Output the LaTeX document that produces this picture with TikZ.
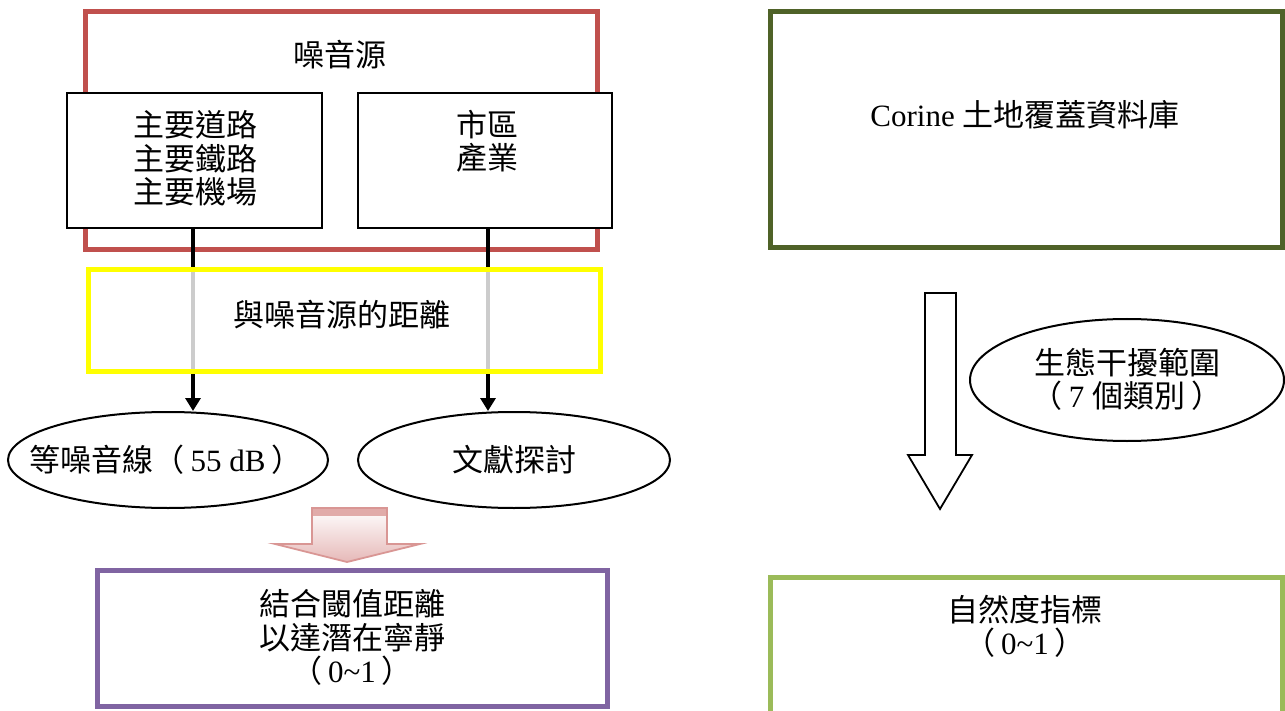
\documentclass[tikz,border=0pt]{standalone}
\usepackage{fontspec}
\setmainfont{Noto Sans CJK TC}
\newfontfamily\lat{Liberation Serif}
\usetikzlibrary{arrows.meta,shapes.geometric}
\definecolor{cred}{HTML}{C0504D}
\definecolor{cyel}{HTML}{FFFF00}
\definecolor{cpur}{HTML}{8064A2}
\definecolor{cdkg}{HTML}{4F6228}
\definecolor{cltg}{HTML}{9BBB59}
\definecolor{cpink}{HTML}{E6B9B8}
\definecolor{cpinkb}{HTML}{D99694}
\newcommand{\gp}{\hspace{3pt}}
\tikzset{
  frame/.style={draw, line width=2.5pt, fill=white, minimum width=#1},
  inbox/.style={draw=black, line width=1pt, fill=white, minimum width=127.5pt, minimum height=67.5pt},
  lab/.style={align=center, font=\fontsize{15.5}{16.75}\selectfont, inner sep=0pt},
  oval/.style={ellipse, draw=black, line width=1pt, fill=white, inner sep=0pt},
  conn/.style={line width=2pt, -{Triangle[length=6.5pt,width=7.5pt]}},
}
\begin{document}
\begin{tikzpicture}[x=0.5pt,y=-0.5pt]
\clip (0,0) rectangle (1285,711);
\fill[white] (0,0) rectangle (1285,711);
% left column
\node[frame=256pt, draw=cred, minimum height=119pt] (src) at (341,131) {};
\node[lab] (srct) at (340,55) {噪音源};
\node[inbox] (L) at (194.5,160.5) {};
\node[lab] (Lt) at (195,158.5) {主要道路\\主要鐵路\\主要機場};
\node[inbox, minimum width=127pt] (R) at (485,160.5) {};
\node[lab] (Rt) at (487,141.5) {市區\\產業};
\node[oval, minimum width=160pt, minimum height=48pt] (eL) at (168,460) {};
\node[lab] (eLt) at (166,460) {等噪音線（\gp{\lat 55 dB}\gp）};
\node[oval, minimum width=156pt, minimum height=48pt] (eR) at (514,460) {};
\node[lab] (eRt) at (514,460) {文獻探討};
\coordinate (aL) at ([xshift=-0.75pt]L.south);
\coordinate (aR) at ([xshift=1.5pt]R.south);
\draw[conn] (aL) -- (aL |- eL.north);
\draw[conn] (aR) -- (aR |- eR.north);
\node[frame=256pt, draw=cyel, fill=white, fill opacity=0.8, minimum height=50.5pt] (dist) at (344,320.5) {};
\node[lab] (distt) at (342,315) {與噪音源的距離};
\node[frame=255pt, draw=cpur, minimum height=68pt] (res) at (352,638) {};
\node[lab] (rest) at (352,637.5) {結合閾值距離\\以達潛在寧靜\\（\gp{\lat 0\char`~1}\gp）};
% pink block arrow
\draw[cpinkb, line width=0.9pt, top color=white, bottom color=cpink]
  (312,508) -- (387,508) -- (387,544) -- (420,544) -- (347,562) -- (275,544) -- (312,544) -- cycle;
\fill[cpinkb!80] (313,509) rectangle (386,516);
% right column
\node[frame=256pt, draw=cdkg, minimum height=118pt] (db) at (1026,130) {};
\node[lab] (dbt) at (1025,115) {{\lat Corine }土地覆蓋資料庫};
\node[oval, minimum width=157pt, minimum height=61pt] (eco) at (1127,380) {};
\node[lab] (ecot) at (1127,379.5) {生態干擾範圍\\（\gp{\lat 7 }個類別\gp）};
\draw[black, line width=0.9pt, fill=white]
  (925,293) -- (956,293) -- (956,455) -- (972,455) -- (940,509) -- (908,455) -- (925,455) -- cycle;
\node[frame=256pt, draw=cltg, minimum height=75pt] (nat) at (1026,652) {};
\node[lab] (natt) at (1025,626.5) {自然度指標\\（\gp{\lat 0\char`~1}\gp）};
\end{tikzpicture}
\end{document}
